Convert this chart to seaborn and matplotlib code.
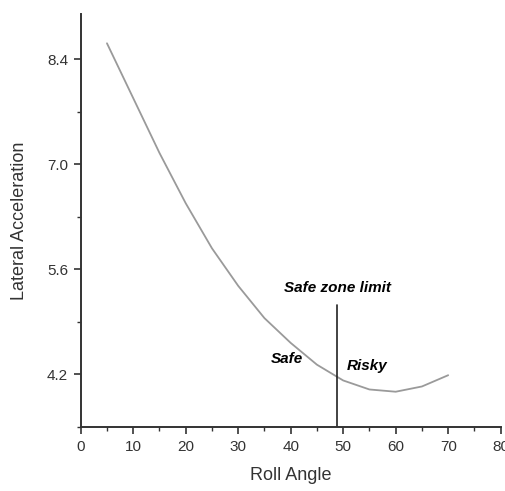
import numpy as np
import pandas as pd
import matplotlib.pyplot as plt
import seaborn as sns
from matplotlib.ticker import MultipleLocator

# values
roll_angle = [5, 10, 15, 20, 25, 30, 35, 40, 45, 50, 55, 60, 65, 70]
lateral_acc = [8.61, 7.88, 7.15, 6.48, 5.88, 5.38, 4.95, 4.62, 4.33, 4.12, 4.00, 3.97, 4.04, 4.19]
limit_angle = 48.9
limit_top = 5.13
y_ticks = [4.2, 5.6, 7.0, 8.4]

sns.set_style("ticks")
plt.rcParams['font.family'] = ['Liberation Sans', 'DejaVu Sans']

df = pd.DataFrame({'Roll Angle': roll_angle, 'Lateral Acceleration': lateral_acc})

fig = plt.figure(figsize=(5.06, 4.91), dpi=100)
ax = fig.add_axes([0.1595, 0.1303, 0.83, 0.8412])

sns.lineplot(data=df, x='Roll Angle', y='Lateral Acceleration', ax=ax,
             color='#9a9a9a', linewidth=1.3)
ax.plot([limit_angle, limit_angle], [3.5, limit_top], color='#222222', linewidth=1.2)

ax.set_xlim(0, 80)
ax.set_ylim(3.5, 9.0)
ax.set_xticks(np.arange(0, 81, 10))
ax.set_yticks(y_ticks)
ax.set_yticklabels([f'{v:.1f}' for v in y_ticks])
ax.xaxis.set_minor_locator(MultipleLocator(5))
ax.yaxis.set_minor_locator(MultipleLocator(0.7))

sns.despine(ax=ax)
for s in ['left', 'bottom']:
    ax.spines[s].set_color('#333333')
    ax.spines[s].set_linewidth(1.4)
ax.tick_params(which='major', length=5, width=1.2, color='#333333', labelsize=11, labelcolor='#333333', pad=4)
ax.tick_params(which='minor', length=3, width=1.0, color='#333333')

ax.set_xlabel('Roll Angle', fontsize=13, color='#333333', labelpad=10)
ax.set_ylabel('Lateral Acceleration', fontsize=13, color='#333333', labelpad=14)

note_font = dict(family=['Liberation Sans Narrow', 'Liberation Sans', 'DejaVu Sans'],
                 fontweight='bold', fontstyle='italic', fontsize=11, color='black')
ax.text(limit_angle, 5.35, 'Safe zone limit', ha='center', va='center', **note_font)
ax.text(39.2, 4.40, 'Safe', ha='center', va='center', **note_font)
ax.text(54.5, 4.31, 'Risky', ha='center', va='center', **note_font)

fig.savefig('out.png', dpi=100)
